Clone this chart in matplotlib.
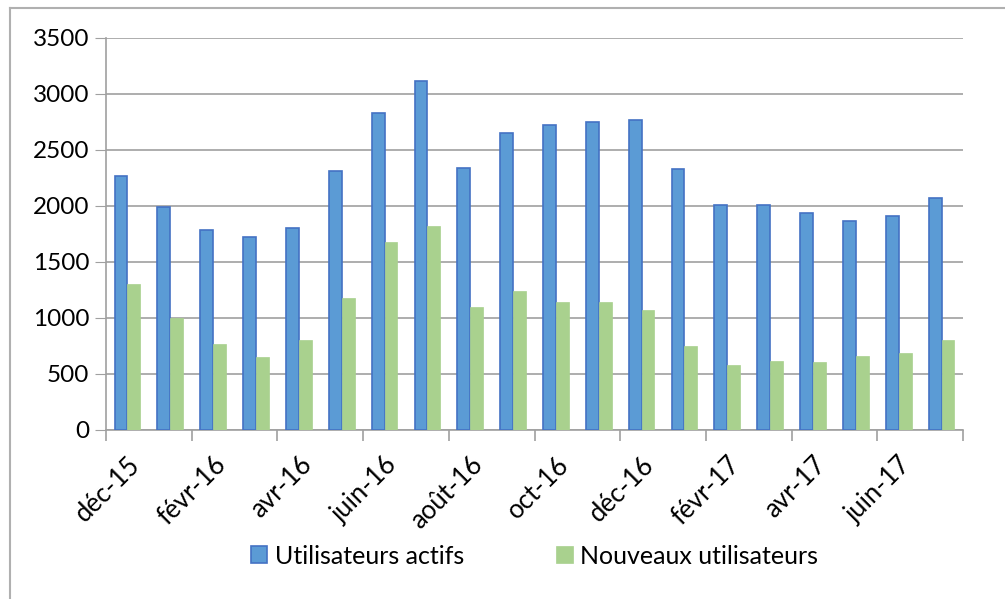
import numpy as np
import matplotlib
matplotlib.use('Agg')
import matplotlib.pyplot as plt
from matplotlib.lines import Line2D

months = ['déc-15', 'janv-16', 'févr-16', 'mars-16', 'avr-16', 'mai-16', 'juin-16',
          'juil-16', 'août-16', 'sept-16', 'oct-16', 'nov-16', 'déc-16', 'janv-17',
          'févr-17', 'mars-17', 'avr-17', 'mai-17', 'juin-17', 'juil-17']
actifs = [2270, 1990, 1790, 1720, 1800, 2310, 2830, 3120, 2340, 2650,
          2720, 2750, 2770, 2330, 2010, 2010, 1940, 1870, 1910, 2070]
nouveaux = [1300, 1000, 770, 650, 800, 1180, 1680, 1820, 1100, 1240,
            1140, 1140, 1070, 750, 580, 620, 610, 660, 690, 800]

plt.rcParams['font.family'] = ['Lato', 'DejaVu Sans']

fig = plt.figure(figsize=(10.05, 5.99), dpi=100)
ax = fig.add_axes([106 / 1005, 1 - 430 / 599, (963 - 106) / 1005, (430 - 38) / 599])

x = np.arange(len(months))
w = 0.3
ax.bar(x - w / 2, actifs, w, color='#5B9BD5', edgecolor='#4472C4', linewidth=1.2,
       label='Utilisateurs actifs', zorder=3)
ax.bar(x + w / 2, nouveaux, w, color='#A9D18E', edgecolor='#A9D18E', linewidth=0.5,
       label='Nouveaux utilisateurs', zorder=3)

ax.set_xlim(-0.5, len(months) - 0.5)
ax.set_ylim(0, 3500)
ax.set_yticks(range(0, 3501, 500))
ax.grid(axis='y', color='#A0A0A0', linewidth=1.2, zorder=0)
ax.tick_params(axis='y', length=8, color='#A0A0A0', labelsize=17.5, pad=4)

# tick marks at group boundaries, labels at category centres
ax.set_xticks(np.arange(-0.5, len(months), 2))
ax.set_xticklabels([])
ax.tick_params(axis='x', which='major', length=8, color='#A0A0A0', width=1.2)
ax.set_xticks(x[::2], minor=True)
ax.set_xticklabels(months[::2], minor=True, rotation=45, ha='right',
                   rotation_mode='anchor', fontsize=18.5)
ax.tick_params(axis='x', which='minor', length=0, pad=16)

for s in ['top', 'right']:
    ax.spines[s].set_visible(False)
for s in ['left', 'bottom']:
    ax.spines[s].set_color('#A0A0A0')
    ax.spines[s].set_linewidth(1.2)

ax.legend(loc='upper center', bbox_to_anchor=(0.5, -0.235), ncol=2, frameon=False,
          fontsize=18, handlelength=0.65, handleheight=0.65, handletextpad=0.3,
          columnspacing=3.7)

# chart area border (top and left visible)
fig.add_artist(Line2D([10 / 1005, 1], [1 - 8 / 599, 1 - 8 / 599], color='#B0B0B0', lw=1.5))
fig.add_artist(Line2D([10 / 1005, 10 / 1005], [0, 1 - 8 / 599], color='#B0B0B0', lw=1.5))

fig.savefig('out.png', dpi=100)
